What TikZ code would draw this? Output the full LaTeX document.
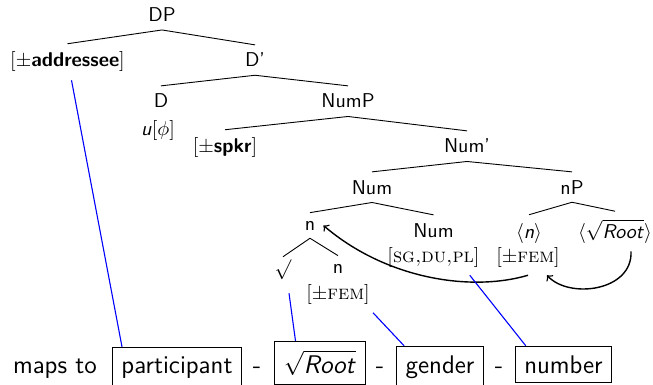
\documentclass[tikz,border=0pt]{standalone}
\usetikzlibrary{calc}
\begin{document}
\begin{tikzpicture}[x=0.5pt,y=-0.5pt,
  tn/.style={font=\fontsize{10}{12}\selectfont\sffamily, anchor=base, inner sep=0.333em, outer sep=0.8pt},
  bt/.style={font=\fontsize{12.75}{15}\selectfont\sffamily, anchor=base, inner sep=0pt},
  bx/.style={bt, draw, inner sep=4.5pt, line width=0.5pt},
  br/.style={line width=0.45pt},
  lk/.style={blue, line width=0.55pt},
  mv/.style={->, line width=0.7pt}]
\useasboundingbox (0,0) rectangle (653,385);

% tree nodes
\node[tn] (DP)     at (162,21.7)  {DP};
\node[tn] (addr)   at (67.5,67)   {$[\pm$\textbf{addressee}$]$};
\node[tn] (Dbar)   at (255,67)    {D'};
\node[tn] (D)      at (161,108)   {D};
\node[tn] (uphi)   at (158,135)   {\textit{u}$[\phi]$};
\node[tn] (NumP)   at (348,108)   {NumP};
\node[tn] (spkr)   at (225,153)   {$[\pm$\textbf{spkr}$]$};
\node[tn] (NumBar) at (467,153)   {Num'};
\node[tn] (Num)    at (372,194)   {Num};
\node[tn] (nP)     at (572,194)   {nP};
\node[tn] (n1)     at (310,230)   {n};
\node[tn] (Num2)   at (433.5,237) {Num};
\node[tn] (sdp)    at (433.5,262) {\rmfamily[\textsc{sg,du,pl}]};
\node[tn] (ntr)    at (529,238)   {$\langle$\textit{n}$\rangle$};
\node[tn] (fem1)   at (528,262)   {$[\pm$\textrm{\textsc{fem}}$]$};
\node[tn] (rtr)    at (615,238)   {$\langle\sqrt{\mbox{\textit{Root}}}\rangle$};
\node[tn, text height=0.5em, text depth=0.5em] (surd) at (283,275) {$\surd$};
\node[tn] (n2)     at (338,273)   {n};
\node[tn] (fem2)   at (338,299.5) {$[\pm$\textrm{\textsc{fem}}$]$};

% branches
\draw[br] (DP.south) -- (addr.north);
\draw[br] (DP.south) -- (Dbar.north);
\draw[br] (Dbar.south) -- (D.north);
\draw[br] (Dbar.south) -- (NumP.north);
\draw[br] (NumP.south) -- (spkr.north);
\draw[br] (NumP.south) -- (NumBar.north);
\draw[br] (NumBar.south) -- (Num.north);
\draw[br] (NumBar.south) -- (nP.north);
\draw[br] (Num.south) -- (n1.north);
\draw[br] (Num.south) -- (Num2.north);
\draw[br] (nP.south) -- (ntr.north);
\draw[br] (nP.south) -- (rtr.north);
\draw[br] (n1.south) -- (surd.north);
\draw[br] (n1.south) -- (n2.north);

% movement arrows
\draw[mv] (fem1.south) .. controls +(-58,17) and +(62,53) .. (n1.east);
\draw[mv] ([xshift=8pt]rtr.south) .. controls +(2,40) and +(22,24) .. ([xshift=9.5pt]fem1.south);

% exponent line
\node[bt] (maps) at (55,373)    {maps to};
\node[bx] (part) at (177,373)   {participant};
\node[bt] (d1)   at (257,373)   {-};
\node[bx] (root) at (320,373)   {$\sqrt{\mbox{\textit{Root}}}$};
\node[bt] (d2)   at (380,373)   {-};
\node[bx] (gen)  at (440,373)   {gender};
\node[bt] (d3)   at (499,373)   {-};
\node[bx] (num)  at (563.5,373) {number};

% links to exponents
\draw[lk] ([xshift=2pt]addr.south) -- ([xshift=5pt]part.north west);
\draw[lk] ([xshift=3pt]surd.south) -- ([xshift=10.5pt]root.north west);
\draw[lk] ([xshift=-2.5pt]fem2.south east) -- ([xshift=4pt]gen.north west);
\draw[lk] ([xshift=-9pt]sdp.south east) -- ([xshift=5.5pt]num.north west);
\end{tikzpicture}
\end{document}
